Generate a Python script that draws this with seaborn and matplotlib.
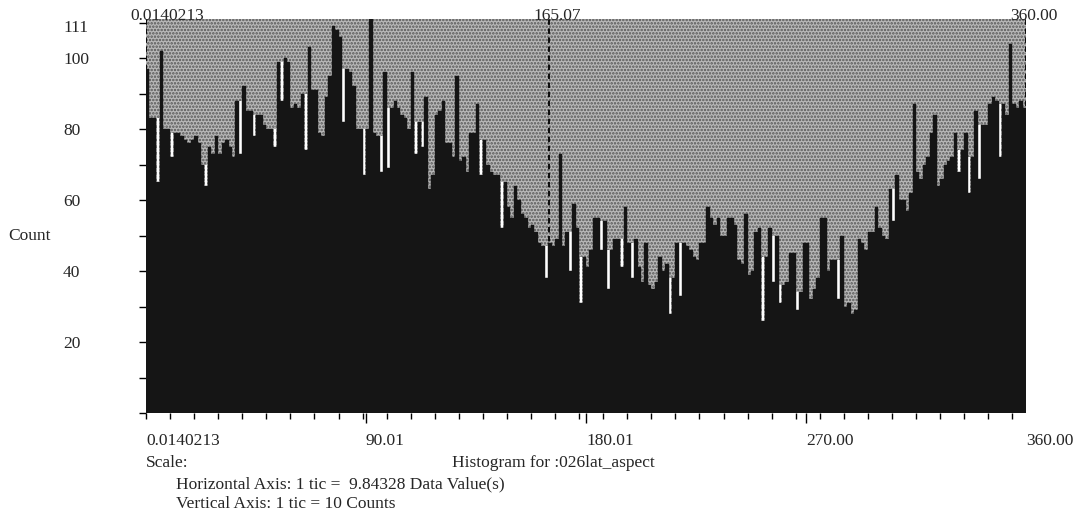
import numpy as np
import pandas as pd
import matplotlib
matplotlib.use("Agg")
import matplotlib.pyplot as plt
import matplotlib.transforms as mtransforms
from matplotlib.patches import Rectangle
import seaborn as sns

# histogram of aspect values, 256 bins from 0.0140213 to 360
x_min = 0.0140213
x_max = 360.00
n_bins = 256
counts = [
    97, 83, 83, 65, 102, 80, 80, 72, 79, 79,
    78, 77, 76, 77, 78, 76, 70, 64, 75, 73,
    78, 73, 76, 77, 75, 72, 88, 73, 92, 85,
    85, 78, 84, 84, 81, 80, 80, 75, 99, 88,
    100, 99, 86, 87, 86, 90, 74, 103, 91, 91,
    79, 78, 89, 95, 109, 108, 106, 82, 97, 96,
    92, 80, 80, 67, 80, 111, 79, 78, 68, 96,
    69, 86, 88, 86, 84, 83, 80, 96, 73, 82,
    75, 89, 63, 67, 84, 85, 88, 76, 76, 72,
    95, 71, 72, 68, 79, 79, 87, 67, 77, 70,
    68, 67, 67, 52, 65, 58, 55, 64, 60, 56,
    55, 52, 53, 51, 48, 47, 38, 48, 47, 49,
    73, 47, 51, 40, 59, 52, 31, 44, 41, 46,
    55, 55, 46, 54, 35, 46, 49, 49, 41, 58,
    48, 38, 49, 41, 37, 48, 36, 35, 37, 44,
    40, 42, 28, 38, 48, 33, 48, 47, 46, 44,
    43, 48, 48, 58, 55, 53, 55, 50, 50, 55,
    55, 53, 43, 42, 56, 39, 40, 51, 52, 26,
    44, 52, 37, 50, 31, 36, 37, 45, 45, 29,
    34, 48, 48, 32, 35, 38, 55, 55, 40, 43,
    43, 32, 50, 30, 31, 28, 29, 49, 48, 46,
    51, 51, 58, 52, 50, 49, 63, 54, 67, 60,
    60, 57, 62, 87, 68, 66, 70, 72, 79, 84,
    64, 66, 70, 71, 72, 79, 68, 74, 79, 62,
    72, 85, 66, 81, 81, 87, 89, 88, 72, 87,
    84, 104, 87, 86, 88, 86,
]
y_max = 111
marker_values = [0.0140213, 165.07, 360.00]
marker_labels = ["0.0140213", "165.07", "360.00"]
bottom_label_bins = [0, 64, 128, 192, 256]
bottom_labels = ["0.0140213", "90.01", "180.01", "270.00", "360.00"]
y_ticks = list(range(0, 111, 10))
y_labels = [20, 40, 60, 80, 100]

sns.set_style("white")
plt.rcParams['font.family'] = ['Liberation Serif', 'DejaVu Serif']
plt.rcParams['hatch.linewidth'] = 1.2
fs = 12.5

edges = np.linspace(x_min, x_max, n_bins + 1)
centers = (edges[:-1] + edges[1:]) / 2
bw = edges[1] - edges[0]
h = np.array(counts, dtype=float)
df = pd.DataFrame({"aspect": centers, "count": h})

fig = plt.figure(figsize=(10.79, 5.19), dpi=100)
ax = fig.add_axes([146 / 1079, 106 / 519, 880 / 1079, 394 / 519])

# stippled background above the bars
ax.add_patch(Rectangle((0, 0), 1, 1, transform=ax.transAxes, facecolor='#b8b8b8',
                       edgecolor='#555555', hatch='.....', linewidth=0, zorder=0))

# dashed cursor lines
for v in marker_values:
    ax.axvline(v, color='black', lw=1.3, dashes=(3, 2), zorder=1)

# white gaps where a bin dips below both neighbours
prev = np.r_[h[0], h[:-1]]
nxt = np.r_[h[1:], h[-1]]
env = np.minimum(prev, nxt)
gap = env - h
mask = gap > 4
ax.bar(centers[mask], gap[mask], bottom=h[mask], width=bw * 0.7,
       color='white', linewidth=0, zorder=2)

sns.histplot(data=df, x="aspect", weights="count", bins=n_bins, binrange=(x_min, x_max),
             color='#151515', alpha=1, edgecolor='#151515', linewidth=0.3, ax=ax, zorder=3)

ax.set_xlim(x_min, x_max)
ax.set_ylim(0, y_max)
ax.set_xlabel("")
ax.set_ylabel("")
for s in ax.spines.values():
    s.set_visible(False)

# x ticks: one tic every 7 bins, long tics at the labelled bins
ax.set_xticks(edges[[64, 128, 192]])
ax.set_xticklabels([])
ax.set_xticks(edges[0:n_bins:7], minor=True)
ax.tick_params(axis='x', which='major', length=7.5, width=1, color='black', bottom=True)
ax.tick_params(axis='x', which='minor', length=4, width=1, color='black', bottom=True)

ax.set_yticks(y_ticks)
ax.set_yticklabels([str(v) if v in y_labels else "" for v in y_ticks], fontsize=fs)
ax.tick_params(axis='y', which='major', length=5, width=1, color='black', left=True, pad=54.7)
for lbl in ax.get_yticklabels():
    lbl.set_ha('left')

trans = mtransforms.blended_transform_factory(ax.transData, ax.transAxes)
for b, lab in zip(bottom_label_bins, bottom_labels):
    ax.text(edges[b], -0.07, lab, transform=trans, ha='left', va='center', fontsize=fs)

for v, lab in zip(marker_values, marker_labels):
    ax.annotate(lab, xy=(v, y_max), xytext=(-16, 3), textcoords='offset pixels',
                ha='left', va='center', fontsize=fs, annotation_clip=False)

ytrans = mtransforms.blended_transform_factory(fig.transFigure, ax.transData)
ax.text(63 / 1079, 108.5, "111", transform=ytrans, ha='left', va='center', fontsize=fs)
ax.text(8 / 1079, 50, "Count", transform=ytrans, ha='left', va='center', fontsize=fs)

fig.text(146 / 1079, 1 - 463 / 519, "Scale:", ha='left', va='center', fontsize=fs)
fig.text(452 / 1079, 1 - 463 / 519, "Histogram for :026lat_aspect", ha='left', va='center', fontsize=fs)
fig.text(176 / 1079, 1 - 484 / 519, "Horizontal Axis: 1 tic =  9.84328 Data Value(s)",
         ha='left', va='center', fontsize=fs)
fig.text(176 / 1079, 1 - 504 / 519, "Vertical Axis: 1 tic = 10 Counts",
         ha='left', va='center', fontsize=fs)

plt.savefig("out.png", dpi=100)
